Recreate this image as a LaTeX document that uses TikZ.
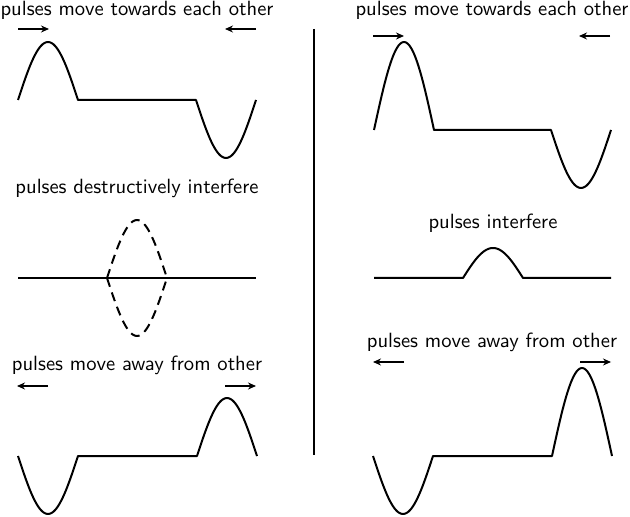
\documentclass[tikz,border=0pt]{standalone}
\usetikzlibrary{arrows.meta}
\begin{document}
\begin{tikzpicture}[x=0.5pt,y=-0.5pt,
  wave/.style={line width=1pt,line join=round},
  dwave/.style={line width=1pt,dash pattern=on 4.6pt off 3pt},
  motion/.style={line width=0.6pt,-{Stealth[length=4pt,width=3.5pt]}},
  title/.style={font=\sffamily\fontsize{10.3}{12}\selectfont,inner sep=0pt}]
\useasboundingbox (0,0) rectangle (630,517);
% divider
\draw[line width=1pt] (314,29) coordinate (d1) -- (314,455) coordinate (d2);

% ---------- left column ----------
\node[title] (t1) at (137,10) {pulses move towards each other};
\coordinate (a1s) at (18,29); \coordinate (a1e) at (49,29);
\coordinate (a2s) at (256,29); \coordinate (a2e) at (225,29);
\draw[motion] (a1s) -- (a1e);
\draw[motion] (a2s) -- (a2e);
\draw[wave] plot[domain=0:180,samples=40] ({18+\x/3},{100-58*sin(\x)})
  -- (196,100)
  -- plot[domain=0:180,samples=40] ({196+\x/3},{100+58*sin(\x)});

\node[title] (t2) at (137,188) {pulses destructively interfere};
\draw[wave] (18,278) -- (256,278);
\draw[dwave] plot[domain=0:180,samples=40] ({107+\x/3},{278-58*sin(\x)});
\draw[dwave] plot[domain=0:180,samples=40] ({107+\x/3},{278+58*sin(\x)});

\node[title] (t3) at (137,365) {pulses move away from other};
\coordinate (a3s) at (48,386); \coordinate (a3e) at (17,386);
\coordinate (a4s) at (225,386); \coordinate (a4e) at (256,386);
\draw[motion] (a3s) -- (a3e);
\draw[motion] (a4s) -- (a4e);
\draw[wave] plot[domain=0:180,samples=40] ({18+\x/3},{456+58*sin(\x)})
  -- (197,456)
  -- plot[domain=0:180,samples=40] ({197+\x/3},{456-58*sin(\x)});

% ---------- right column ----------
\node[title] (t4) at (492,10) {pulses move towards each other};
\coordinate (b1s) at (373,36); \coordinate (b1e) at (404,36);
\coordinate (b2s) at (610,36); \coordinate (b2e) at (579,36);
\draw[motion] (b1s) -- (b1e);
\draw[motion] (b2s) -- (b2e);
\draw[wave] plot[domain=0:180,samples=40] ({374+\x/3},{130-88*sin(\x)})
  -- (551,130)
  -- plot[domain=0:180,samples=40] ({551+\x/3},{130+58*sin(\x)});

\node[title] (t5) at (493,223) {pulses interfere};
\draw[wave] (374,278) -- (463,278)
  -- plot[domain=0:180,samples=40] ({463+\x/3},{278-30*sin(\x)})
  -- (611,278);

\node[title] (t6) at (492,342) {pulses move away from other};
\coordinate (b3s) at (404,362); \coordinate (b3e) at (373,362);
\coordinate (b4s) at (580,362); \coordinate (b4e) at (611,362);
\draw[motion] (b3s) -- (b3e);
\draw[motion] (b4s) -- (b4e);
\draw[wave] plot[domain=0:180,samples=40] ({373+\x/3},{456+58*sin(\x)})
  -- (552,456)
  -- plot[domain=0:180,samples=40] ({552+\x/3},{456-88*sin(\x)});
\end{tikzpicture}
\end{document}
